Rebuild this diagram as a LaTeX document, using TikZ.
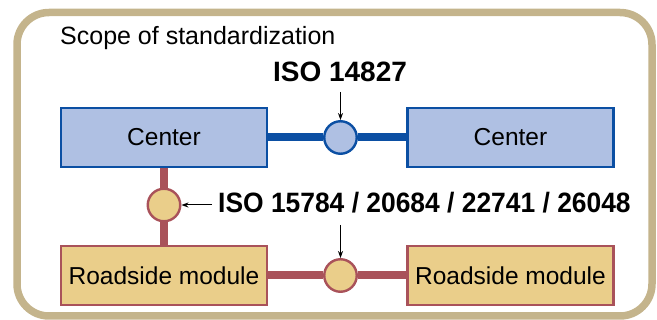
\documentclass[tikz,border=0pt]{standalone}
\usepackage{fontspec}
\setmainfont{Liberation Sans}
\usetikzlibrary{arrows.meta,backgrounds}
\definecolor{frametan}{HTML}{C4B48C}
\definecolor{centerblue}{HTML}{AFC0E3}
\definecolor{lineblue}{HTML}{0B4FA3}
\definecolor{roadtan}{HTML}{EACE8A}
\definecolor{linered}{HTML}{A9525A}
\begin{document}
\begin{tikzpicture}[
	x=1pt, y=-1pt,
	>={Stealth[length=7pt,width=5pt]},
	box/.style={line width=2.2pt, minimum width=206pt, minimum height=59pt, inner sep=0pt, font=\fontsize{24.5}{28}\selectfont},
	center box/.style={box, draw=lineblue, fill=centerblue},
	road box/.style={box, draw=linered, fill=roadtan},
	port/.style={circle, line width=2.4pt, minimum size=32.5pt, inner sep=0pt},
	blue port/.style={port, draw=lineblue, fill=centerblue},
	red port/.style={port, draw=linered, fill=roadtan},
	blue link/.style={draw=lineblue, line width=8pt},
	red link/.style={draw=linered, line width=8pt},
	iso label/.style={font=\bfseries\fontsize{28}{32}\selectfont, inner sep=0pt},
	pointer/.style={->, line width=1pt}
	]
	\useasboundingbox (0,0) rectangle (657,320);
	\draw[frametan, line width=7.5pt, rounded corners=32pt] (17,12.5) rectangle (652,316);
	\node[anchor=base west, inner sep=0pt, font=\fontsize{25}{29}\selectfont] (scope) at (60,45) {Scope of standardization};
	
	% centers and roadside modules
	\node[center box] (centerL) at (164,137.5) {Center};
	\node[center box] (centerR) at (510.5,137.5) {Center};
	\node[road box] (roadL) at (164,275.5) {Roadside module};
	\node[road box] (roadR) at (510.5,275.5) {Roadside module};
	
	% interfaces
	\node[blue port] (portCC) at (340.5,137.5) {};
	\node[red port] (portCR) at (164,205) {};
	\node[red port] (portRR) at (340.5,275.5) {};
	
	\begin{scope}[on background layer]
		\draw[blue link] (centerL) -- (portCC) -- (centerR);
		\draw[red link] (centerL) -- (portCR) -- (roadL);
		\draw[red link] (roadL) -- (portRR) -- (roadR);
	\end{scope}
	
	% standards
	\node[iso label, anchor=base] (isoCC) at (340,82) {ISO 14827};
	\node[iso label, anchor=base west] (isoRR) at (218,213) {\scalebox{0.943}[1]{ISO 15784 / 20684 / 22741 / 26048}};
	\coordinate (dropCC) at (340.5,92);
	\coordinate (dropCR) at (212,205);
	\coordinate (dropRR) at (340.5,225);
	\draw[pointer] (dropCC) -- (portCC.north);
	\draw[pointer] (dropCR) -- (portCR.east);
	\draw[pointer] (dropRR) -- (portRR.north);
\end{tikzpicture}
\end{document}
